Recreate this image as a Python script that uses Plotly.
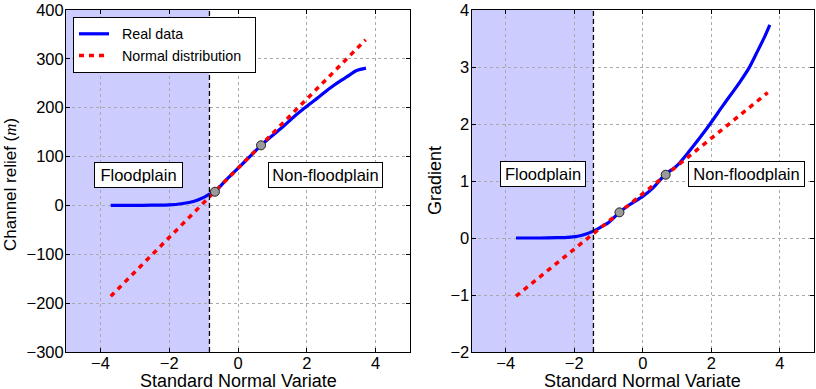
import plotly.graph_objects as go

# ---- Left panel: channel relief ----
relief_real_x = [-3.7, -3.0, -2.5, -2.0, -1.6, -1.3, -1.1, -0.95, -0.83, -0.67, -0.4, 0.0, 0.4, 0.67,
                 1.0, 1.32, 1.65, 2.0, 2.35, 2.67, 3.0, 3.16, 3.45, 3.72]
relief_real_y = [0, 0, 0.5, 1, 4, 8, 13, 18, 23, 28, 48, 76, 104, 123,
                 143, 162, 183, 203, 222, 240, 256, 263, 276, 281]
relief_norm_x = [-3.7, 3.71]
relief_norm_y = [-186, 339]
relief_quart_x = [-0.67, 0.67]
relief_quart_y = [28, 123]
relief_threshold = -0.83

# ---- Right panel: gradient ----
grad_real_x = [-3.7, -3.0, -2.5, -2.2, -1.9, -1.7, -1.44, -1.2, -1.0, -0.68, -0.4, 0.0, 0.3, 0.65,
               1.0, 1.38, 1.87, 2.35, 2.84, 3.1, 3.32, 3.55, 3.71]
grad_real_y = [0, 0, 0.005, 0.01, 0.03, 0.06, 0.12, 0.2, 0.27, 0.45, 0.58, 0.73, 0.88, 1.11,
               1.27, 1.54, 1.92, 2.33, 2.74, 2.98, 3.24, 3.52, 3.74]
grad_norm_x = [-3.7, 3.65]
grad_norm_y = [-1.02, 2.55]
grad_quart_x = [-0.68, 0.67]
grad_quart_y = [0.45, 1.11]
grad_threshold = -1.44

x_ticks = [-4, -2, 0, 2, 4]
relief_ticks = [-300, -200, -100, 0, 100, 200, 300, 400]
grad_ticks = [-2, -1, 0, 1, 2, 3, 4]

FONT = "Liberation Sans, Arial, sans-serif"
BLUE = "#0000ff"
RED = "#ff0000"
SHADE = "rgb(204,204,255)"
NB = "\u00a0\u00a0"

fig = go.Figure()

def add_panel(xr, yr, xn, yn, xq, yq, xa, ya, show):
    fig.add_trace(go.Scatter(x=xr, y=yr, mode="lines", name=NB + "Real data" + NB,
                             line=dict(color=BLUE, width=3.2, shape="spline", smoothing=0.8),
                             xaxis=xa, yaxis=ya, showlegend=show))
    fig.add_trace(go.Scatter(x=xn, y=yn, mode="lines", name=NB + "Normal distribution" + NB,
                             line=dict(color=RED, width=3.5, dash="5px,5px"),
                             xaxis=xa, yaxis=ya, showlegend=show))
    fig.add_trace(go.Scatter(x=xq, y=yq, mode="markers",
                             marker=dict(color="#9a9a9a", size=9, line=dict(color="#222", width=1)),
                             xaxis=xa, yaxis=ya, showlegend=False))

add_panel(relief_real_x, relief_real_y, relief_norm_x, relief_norm_y,
          relief_quart_x, relief_quart_y, "x", "y", True)
add_panel(grad_real_x, grad_real_y, grad_norm_x, grad_norm_y,
          grad_quart_x, grad_quart_y, "x2", "y2", False)

# shaded floodplain regions + threshold lines
for xref, yref, thr in [("x", "y", relief_threshold), ("x2", "y2", grad_threshold)]:
    fig.add_shape(type="rect", xref=xref, yref=yref + " domain", x0=-5, x1=thr, y0=0, y1=1,
                  fillcolor=SHADE, line=dict(width=0), layer="below")
    fig.add_shape(type="line", xref=xref, yref=yref + " domain", x0=thr, x1=thr, y0=0, y1=1,
                  line=dict(color="black", width=1.3, dash="5px,3px"), layer="above")

# text boxes
for xref, yref, xf, xn, yv, wf, wn in [("x", "y", -2.9, 2.53, 62, 79, 105),
                                       ("x2", "y2", -2.9, 3.04, 1.12, 76, 107)]:
    for xv, txt, w in [(xf, "Floodplain", wf), (xn, "Non-floodplain", wn)]:
        fig.add_annotation(x=xv, y=yv, xref=xref, yref=yref, text=txt, showarrow=False,
                           font=dict(family=FONT, size=16.5, color="black"), width=w, height=16,
                           bgcolor="white", bordercolor="black", borderwidth=1, borderpad=4)

# axis titles as paper annotations (exact placement)
TITLE_FONT = dict(family=FONT, size=18, color="black")
for xc, txt in [(238/816, "Standard Normal Variate"), (642.7/816, "Standard Normal Variate")]:
    fig.add_annotation(x=xc, y=1 - 380.5/389, xref="paper", yref="paper", text=txt,
                       showarrow=False, font=TITLE_FONT, height=17, borderpad=0,
                       xanchor="center", yanchor="middle")
M_TXT = "Channel relief (<span style='font-family:Liberation Serif'><i>m</i></span>)"
fig.add_annotation(x=11/816, y=1 - 185/389, xref="paper", yref="paper", text=M_TXT, textangle=-90,
                   showarrow=False, font=dict(family=FONT, size=17, color="black"),
                   xanchor="center", yanchor="middle")
fig.add_annotation(x=435/816, y=1 - 181/389, xref="paper", yref="paper", text="Gradient",
                   textangle=-90, showarrow=False, font=TITLE_FONT,
                   xanchor="center", yanchor="middle")

axis_common = dict(showline=True, linecolor="black", linewidth=1, mirror="allticks",
                   ticks="inside", ticklen=4, tickcolor="black", automargin=False,
                   showgrid=True, gridcolor="#aaaaaa", griddash="dot", gridwidth=1,
                   zeroline=False, tickfont=dict(family=FONT, size=16.5, color="black"))

fig.update_layout(
    width=816, height=389,
    margin=dict(l=0, r=0, t=0, b=0, autoexpand=False),
    paper_bgcolor="white", plot_bgcolor="white",
    font=dict(family=FONT, color="black"),
    xaxis=dict(domain=[66/816, 410/816], range=[-5, 5], tickvals=x_ticks, anchor="y",
               ticklabelstandoff=-4, **axis_common),
    yaxis=dict(domain=[37/389, 379/389], range=[-300, 400], tickvals=relief_ticks, anchor="x",
               ticklabelstandoff=-2, **axis_common),
    xaxis2=dict(domain=[471.5/816, 814/816], range=[-5, 5], tickvals=x_ticks, anchor="y2",
                ticklabelstandoff=-4, **axis_common),
    yaxis2=dict(domain=[37/389, 379/389], range=[-2, 4], tickvals=grad_ticks, anchor="x2",
                ticklabelstandoff=-2, **axis_common),
    legend=dict(x=73/816, y=1 - 17/389, xanchor="left", yanchor="top",
                bgcolor="white", bordercolor="black", borderwidth=1,
                font=dict(family=FONT, size=14.3, color="black"),
                tracegroupgap=0, itemwidth=30),
)

fig.write_html("out.html", config={"displayModeBar": False},
               post_script="document.body.style.margin='0';document.body.style.overflow='hidden';")
